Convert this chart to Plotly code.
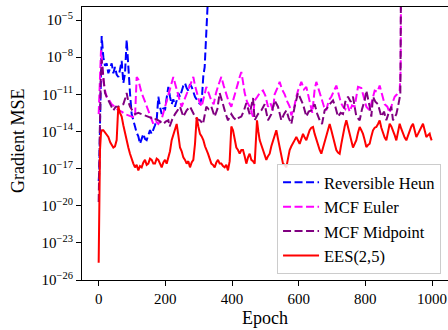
import plotly.graph_objects as go

# ---------------- data (log10 of gradient MSE) ----------------
heun_epochs = [0, 2, 4, 6, 9, 14, 19, 24, 29, 34, 39, 44, 49, 54, 59, 64, 69, 74, 79, 84, 89, 94, 99,
               104, 109, 114, 119, 124, 129, 134, 139, 144, 149, 154, 159, 164, 169, 174, 179, 184, 189,
               194, 199, 204, 209, 214, 219, 224, 229, 234, 239, 244, 249, 254, 259, 264, 269, 274, 279,
               284, 289, 296, 304, 310, 314, 318, 321, 325, 328, 330]
heun_log10 = [-18.0, -17.2, -13.5, -9.5, -6.3, -8.0, -8.7, -8.5, -9.3, -8.9, -8.5, -9.3, -8.8, -9.4, -9.6,
              -9.0, -8.3, -10.1, -9.3, -6.6, -9.3, -10.9, -12.6, -13.2, -13.6, -14.1, -14.4, -15.0, -14.5,
              -14.2, -14.6, -14.7, -14.3, -13.9, -14.2, -13.9, -13.5, -13.1, -11.2, -12.0, -12.6, -12.1,
              -12.3, -11.3, -10.4, -11.2, -11.8, -11.4, -12.0, -11.5, -10.9, -11.2, -10.7, -10.3, -10.1,
              -10.5, -10.7, -10.2, -10.4, -10.9, -11.2, -11.5, -11.8, -11.2, -9.5, -8.8, -7.2, -5.3, -3.9, -2.0]

euler_epochs = [0, 3, 7, 10, 14, 19, 24, 30, 39, 49, 59, 69, 79, 89, 99, 109, 114, 119, 124, 129, 139,
                149, 157, 164, 172, 179, 189, 199, 207, 214, 219, 224, 229, 234, 242, 249, 256, 262, 269,
                277, 284, 289, 294, 302, 309, 316, 323, 330, 338, 345, 352, 360, 368, 375, 383, 390, 398,
                405, 413, 418, 423, 428, 433, 438, 445, 453, 463, 468, 476, 483, 493, 500, 508, 515, 523,
                528, 536, 543, 550, 558, 566, 573, 578, 586, 593, 598, 608, 616, 623, 633, 641, 648, 653,
                660, 668, 676, 683, 690, 698, 705, 713, 720, 727, 733, 740, 746, 753, 760, 768, 773, 778,
                788, 796, 803, 813, 820, 828, 836, 843, 850, 858, 866, 873, 880, 888, 895, 903, 906, 907]
euler_log10 = [-12.6, -10.0, -7.45, -8.4, -9.9, -10.7, -11.2, -11.4, -11.8, -12.0, -12.3, -12.4, -12.6,
               -12.7, -12.8, -12.9, -9.6, -9.8, -10.4, -10.9, -11.6, -12.3, -12.8, -13.4, -13.2, -13.4,
               -13.0, -12.0, -11.2, -10.4, -9.9, -9.6, -10.1, -10.7, -11.4, -12.0, -11.5, -11.1, -10.7,
               -10.1, -9.6, -10.3, -10.9, -11.6, -12.0, -11.3, -10.4, -10.9, -11.5, -11.8, -10.9, -10.2,
               -9.6, -10.3, -11.0, -11.6, -12.0, -11.4, -10.6, -10.1, -9.6, -9.2, -10.0, -10.9, -11.6,
               -12.0, -12.8, -11.5, -11.2, -10.9, -10.7, -11.1, -12.0, -11.7, -12.3, -11.0, -10.5, -10.0,
               -10.6, -11.0, -11.6, -12.0, -12.7, -12.1, -11.2, -10.7, -10.0, -10.6, -10.4, -11.5, -12.5,
               -10.6, -10.0, -10.6, -11.4, -12.0, -12.3, -11.5, -11.2, -10.8, -10.3, -11.0, -11.7, -12.0,
               -12.2, -11.8, -12.4, -11.9, -12.0, -11.2, -10.4, -10.5, -11.2, -12.0, -12.3, -11.6, -10.7,
               -10.8, -10.3, -11.0, -11.8, -12.0, -12.5, -11.8, -11.2, -11.0, -10.7, -9.0, -2.0]

mid_epochs = [0, 3, 6, 9, 11, 15, 19, 24, 29, 36, 44, 51, 59, 66, 74, 80, 84, 89, 94, 101, 109, 119, 129,
              139, 149, 157, 164, 172, 179, 187, 194, 201, 209, 213, 221, 229, 236, 244, 254, 264, 274,
              282, 289, 296, 304, 313, 323, 330, 338, 348, 356, 363, 368, 373, 380, 388, 398, 405, 413,
              420, 428, 436, 443, 453, 463, 468, 478, 488, 498, 508, 518, 528, 538, 548, 556, 563, 570,
              578, 588, 598, 603, 613, 623, 630, 638, 648, 656, 663, 670, 678, 686, 693, 703, 710, 718,
              726, 733, 740, 748, 756, 763, 768, 773, 783, 790, 798, 803, 813, 818, 823, 830, 838, 848,
              856, 863, 870, 878, 883, 888, 893, 898, 905, 907]
mid_log10 = [-19.7, -14.5, -10.0, -8.2, -8.8, -10.0, -10.9, -11.2, -11.5, -11.9, -12.3, -12.0, -12.0,
             -11.9, -11.8, -11.3, -10.9, -11.6, -12.0, -12.3, -12.6, -12.5, -12.6, -12.7, -12.8, -12.9,
             -13.1, -13.0, -13.1, -13.3, -13.4, -13.2, -13.1, -13.6, -13.0, -12.6, -12.3, -12.0, -12.8,
             -12.3, -12.0, -12.4, -12.8, -13.0, -13.1, -13.4, -12.0, -12.2, -12.0, -12.8, -12.2, -10.9,
             -11.3, -11.8, -12.5, -13.1, -12.6, -12.9, -13.1, -12.9, -12.8, -12.3, -11.7, -12.6, -11.3,
             -13.1, -12.6, -12.3, -11.8, -13.1, -12.6, -11.5, -12.0, -13.1, -12.6, -12.3, -12.9, -13.4,
             -12.0, -10.9, -11.2, -11.8, -12.8, -12.4, -12.3, -11.8, -12.6, -13.1, -13.4, -12.3, -12.1,
             -11.8, -11.5, -12.0, -12.8, -12.5, -12.6, -11.6, -11.2, -11.6, -11.2, -12.0, -12.8, -13.1,
             -12.2, -11.5, -10.7, -12.0, -12.8, -11.2, -11.6, -11.8, -12.8, -12.4, -13.1, -12.5, -12.0,
             -13.1, -12.8, -12.6, -12.0, -11.0, -2.0]

ees_epochs = [0, 2, 4, 7, 10, 14, 20, 29, 35, 39, 44, 49, 54, 57, 59, 64, 69, 74, 79, 84, 89, 94, 99, 104,
              109, 114, 119, 124, 129, 134, 139, 144, 149, 154, 159, 164, 169, 174, 179, 184, 189, 194,
              199, 204, 209, 214, 219, 226, 234, 239, 244, 249, 254, 259, 264, 269, 274, 279, 284, 289,
              294, 299, 304, 309, 314, 319, 324, 328, 333, 338, 343, 348, 353, 358, 363, 368, 373, 378,
              383, 388, 393, 398, 403, 408, 413, 418, 423, 428, 433, 438, 443, 448, 453, 458, 463, 468,
              472, 475, 479, 483, 488, 493, 498, 503, 508, 513, 518, 523, 528, 533, 538, 543, 548, 553,
              558, 563, 568, 573, 578, 583, 588, 593, 598, 603, 608, 613, 618, 623, 628, 633, 638, 643,
              648, 653, 658, 663, 668, 673, 678, 683, 688, 693, 698, 703, 708, 713, 718, 723, 728, 733,
              738, 743, 748, 753, 758, 763, 768, 773, 778, 783, 788, 793, 798, 803, 808, 813, 818, 823,
              828, 833, 838, 843, 848, 853, 858, 863, 868, 873, 878, 883, 888, 893, 898, 903, 908, 913,
              918, 923, 928, 933, 938, 943, 948, 953, 958, 963, 968, 973, 978, 983, 988, 993, 996, 999]
ees_log10 = [-24.6, -19.5, -15.5, -14.1, -13.9, -13.9, -14.1, -14.45, -14.9, -15.1, -15.3, -15.2, -14.7,
             -13.0, -12.0, -12.5, -12.8, -13.5, -14.2, -14.7, -15.3, -15.8, -16.3, -16.6, -16.9, -16.7,
             -17.15, -16.8, -16.9, -16.5, -16.3, -16.7, -16.6, -16.2, -16.3, -16.6, -16.6, -16.2, -16.3,
             -16.6, -16.9, -16.5, -16.3, -16.6, -16.1, -15.6, -14.7, -14.0, -13.4, -14.3, -15.3, -15.6,
             -16.1, -16.3, -16.6, -16.4, -16.9, -16.5, -16.3, -15.0, -12.85, -13.6, -14.2, -14.4, -14.7,
             -15.2, -15.5, -15.8, -16.2, -16.6, -16.7, -16.9, -16.5, -16.3, -16.6, -16.6, -16.8, -16.9,
             -16.7, -17.15, -16.4, -13.6, -13.9, -14.6, -15.3, -15.5, -15.8, -15.5, -15.5, -16.0, -16.6,
             -16.1, -15.8, -16.3, -16.4, -16.6, -15.0, -13.1, -14.0, -14.7, -15.1, -15.5, -15.9, -16.3,
             -16.0, -15.8, -15.2, -14.7, -14.2, -13.9, -14.6, -15.3, -15.9, -16.6, -16.7, -16.9, -16.2,
             -15.5, -15.2, -15.0, -14.7, -14.45, -14.7, -15.0, -14.6, -14.2, -14.5, -14.7, -14.3, -13.9,
             -13.7, -13.64, -14.2, -14.7, -15.1, -15.5, -15.8, -15.3, -14.8, -14.2, -13.8, -13.4, -13.9,
             -14.45, -15.0, -15.5, -15.7, -15.8, -15.0, -14.2, -13.6, -13.1, -13.6, -14.2, -14.8, -15.3,
             -15.0, -14.7, -14.1, -13.64, -13.9, -14.2, -14.7, -15.26, -15.1, -14.99, -14.4, -13.91,
             -13.7, -13.64, -13.4, -13.11, -13.7, -14.2, -14.5, -14.72, -14.0, -13.38, -13.6, -13.91,
             -14.3, -14.72, -14.0, -13.38, -13.8, -14.18, -14.5, -14.72, -14.3, -13.91, -13.6, -13.38,
             -13.9, -14.45, -14.2, -13.91, -13.6, -13.38, -13.9, -14.45, -14.3, -14.18, -14.5, -14.72]

series_names = ["Reversible Heun", "MCF Euler", "MCF Midpoint", "EES(2,5)"]
x_ticks = [0, 200, 400, 600, 800, 1000]
y_tick_exps = [-26, -23, -20, -17, -14, -11, -8, -5]

# ---------------- figure ----------------
FONT = "Liberation Serif, Times New Roman, serif"

def vals(logs):
    return [10 ** v for v in logs]

fig = go.Figure()
styles = [
    (heun_epochs, heun_log10, "#0000ff", "8px,3.5px"),
    (euler_epochs, euler_log10, "#ff00ff", "8px,3.5px"),
    (mid_epochs, mid_log10, "#800080", "8px,3.5px"),
    (ees_epochs, ees_log10, "#ff0000", "solid"),
]
for name, (xs, ls, col, dash) in zip(series_names, styles):
    fig.add_trace(go.Scatter(x=xs, y=vals(ls), mode="lines", name=name,
                             line=dict(color=col, width=2, dash=dash)))

fig.update_layout(
    width=448, height=330,
    margin=dict(l=82, r=0, t=7, b=50),
    plot_bgcolor="white", paper_bgcolor="white",
    font=dict(family=FONT, size=15, color="black"),
    showlegend=True,
    legend=dict(x=0.981, y=0.022, xanchor="right", yanchor="bottom",
                bgcolor="rgba(255,255,255,0.85)", bordercolor="#cccccc", borderwidth=1,
                itemwidth=36,
                font=dict(family=FONT, size=16.5)),
    xaxis=dict(range=[-50, 1048], tickvals=x_ticks, ticktext=[str(v) for v in x_ticks],
               ticks="outside", ticklen=5, tickcolor="black", showline=True, linecolor="black",
               linewidth=1, mirror=True, showgrid=False, zeroline=False),
    yaxis=dict(type="log", range=[-26, -3.95], tickvals=[10 ** e for e in y_tick_exps],
               ticktext=["10<sup>\u2212%d</sup>" % (-e) for e in y_tick_exps],
               ticks="outside", ticklen=5, tickcolor="black", showline=True, linecolor="black",
               linewidth=1, mirror=False, showgrid=False, zeroline=False),
    annotations=[
        dict(text="Gradient MSE", xref="paper", yref="paper", x=-0.175, y=0.509,
             textangle=-90, showarrow=False, font=dict(family=FONT, size=18),
             xanchor="center", yanchor="middle"),
        dict(text="Epoch", xref="paper", yref="paper", x=0.5, y=-0.139,
             showarrow=False, font=dict(family=FONT, size=18),
             xanchor="center", yanchor="middle"),
    ],
)

fig.write_html("out.html")
